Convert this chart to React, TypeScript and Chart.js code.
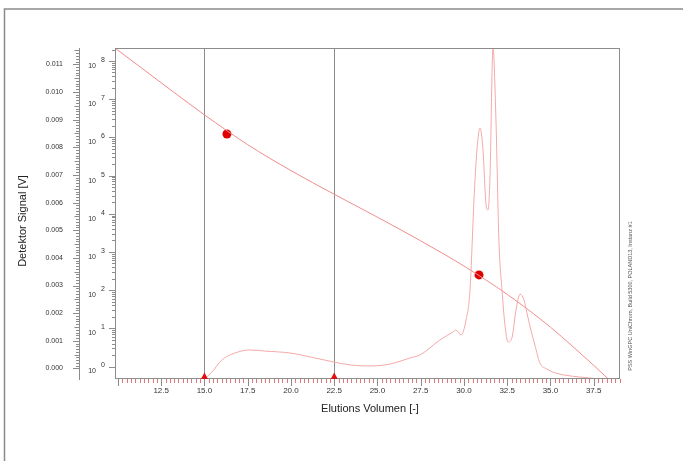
import React, { useEffect, useRef } from 'react';
import { Chart, registerables } from 'chart.js';

Chart.register(...registerables);

// Detector trace: elution volume [-] vs. detector signal [V]
const elutionVolume = [
  15.0, 15.43, 16.01, 16.76, 17.63, 18.5, 19.94, 21.39, 22.43, 23.41, 24.57, 25.72,
  26.88, 27.46, 28.61, 29.36, 29.54, 29.83, 30.12, 30.35, 30.58, 30.75, 30.93, 31.1,
  31.28, 31.39, 31.5, 31.68, 31.85, 32.02, 32.2, 32.37, 32.54, 32.77, 33.01, 33.24,
  33.47, 33.64, 33.87, 34.1, 34.39, 34.8, 35.14, 35.84, 36.71, 37.86,
];
const detectorSignal = [
  -0.00038, -0.00013, 0.00031, 0.00056, 0.00067, 0.00063, 0.00056, 0.00038, 0.00024, 0.00013, 0.00009, 0.00016,
  0.00038, 0.00049, 0.00103, 0.00132, 0.00139, 0.00121, 0.00175, 0.00284, 0.00609, 0.0079, 0.0087, 0.0079,
  0.00591, 0.00573, 0.00682, 0.01159, 0.00899, 0.00465, 0.00284, 0.00157, 0.00096, 0.0011, 0.00212, 0.00269,
  0.00248, 0.00201, 0.00139, 0.00085, 0.0002, -0.00002, -0.00013, -0.00024, -0.00031, -0.00038,
];

// Calibration curve: elution volume vs. molar mass (log axis)
const calibrationVolume = [9.8, 12.5, 15.0, 17.5, 20.0, 22.5, 25.0, 27.5, 30.0, 32.5, 35.0, 37.5, 38.35];
const calibrationMass = [2.24e8, 2.69e7, 3.89e6, 6.46e5, 1.35e5, 3.24e4, 8.13e3, 1.95e3, 427, 77.6, 10.7, 1.07, 0.468];

// Calibration standards
const standardVolume = [16.3, 30.87];
const standardMass = [1.23e6, 250];

// Integration limits
const limitVolumes = [15.0, 22.5];

// Tick labels
const volumeTicks = [12.5, 15.0, 17.5, 20.0, 22.5, 25.0, 27.5, 30.0, 32.5, 35.0, 37.5];
const signalTicks = [0, 0.001, 0.002, 0.003, 0.004, 0.005, 0.006, 0.007, 0.008, 0.009, 0.01, 0.011];
const massDecades = [0, 1, 2, 3, 4, 5, 6, 7, 8];

const FONT = '"Liberation Sans", Arial, Helvetica, sans-serif';
const FRAME = '#8c8c8c';
const TEXT = '#333333';

const decorPlugin = {
  id: 'gpcDecor',
  beforeDatasetsDraw(chart: any) {
    const { ctx, chartArea: a, scales } = chart;
    const xs = scales.x;
    ctx.save();
    ctx.strokeStyle = FRAME;
    ctx.lineWidth = 1;
    for (const v of limitVolumes) {
      const px = Math.round(xs.getPixelForValue(v)) + 0.5;
      ctx.beginPath();
      ctx.moveTo(px, a.top);
      ctx.lineTo(px, a.bottom);
      ctx.stroke();
    }
    ctx.restore();
  },
  afterDatasetsDraw(chart: any) {
    const { ctx, chartArea: a, scales } = chart;
    const xs = scales.x;
    const ys = scales.ySignal;
    const ym = scales.yMass;
    ctx.save();

    // plot frame
    ctx.strokeStyle = FRAME;
    ctx.lineWidth = 1;
    ctx.strokeRect(a.left + 0.5, a.top + 0.5, a.right - a.left - 1, a.bottom - a.top - 1);

    // x ticks: small red every 0.25, longer grey every 2.5
    for (let i = 40; i <= 156; i++) {
      const v = i / 4;
      const px = Math.round(xs.getPixelForValue(v)) + 0.5;
      const major = i % 10 === 0;
      ctx.strokeStyle = major ? '#8c8c8c' : '#e07a7a';
      ctx.beginPath();
      ctx.moveTo(px, a.bottom);
      ctx.lineTo(px, a.bottom + (major ? 7 : 4));
      ctx.stroke();
    }

    // limit markers
    ctx.fillStyle = '#e01010';
    for (const v of limitVolumes) {
      const px = xs.getPixelForValue(v);
      ctx.beginPath();
      ctx.moveTo(px - 3.5, a.bottom);
      ctx.lineTo(px + 3.5, a.bottom);
      ctx.lineTo(px, a.bottom - 6.5);
      ctx.closePath();
      ctx.fill();
    }

    // signal axis ticks
    ctx.strokeStyle = FRAME;
    const axisX = ys.right;
    for (let i = 0; i <= 115; i++) {
      const py = Math.round(ys.getPixelForValue(i / 10000)) + 0.5;
      if (py < a.top || py > a.bottom) continue;
      const len = i % 10 === 0 ? 6 : i % 5 === 0 ? 4.5 : 3;
      ctx.beginPath();
      ctx.moveTo(axisX, py);
      ctx.lineTo(axisX - len, py);
      ctx.stroke();
    }

    // mass axis ticks and labels
    for (const k of massDecades) {
      for (let m = 1; m <= 9; m++) {
        const py = Math.round(ym.getPixelForValue(m * Math.pow(10, k))) + 0.5;
        if (py < a.top || py > a.bottom) continue;
        const len = m === 1 ? 6 : 3;
        ctx.beginPath();
        ctx.moveTo(a.left, py);
        ctx.lineTo(a.left - len, py);
        ctx.stroke();
      }
    }
    ctx.fillStyle = TEXT;
    ctx.font = `7px ${FONT}`;
    ctx.textBaseline = 'middle';
    for (const k of massDecades) {
      const py = ym.getPixelForValue(Math.pow(10, k));
      ctx.textAlign = 'right';
      ctx.fillText('10', 96, py + 5);
      ctx.textAlign = 'left';
      ctx.fillText(String(k), 101, py - 1);
    }

    // axis titles
    ctx.fillStyle = '#222222';
    ctx.font = `11px ${FONT}`;
    ctx.textAlign = 'center';
    ctx.fillText('Elutions Volumen [-]', 370, 409);
    ctx.save();
    ctx.translate(23, 221);
    ctx.rotate(-Math.PI / 2);
    ctx.fillText('Detektor Signal [V]', 0, 0);
    ctx.restore();

    // software stamp
    ctx.save();
    ctx.fillStyle = '#555555';
    ctx.font = `5.5px ${FONT}`;
    ctx.translate(630, 296);
    ctx.rotate(-Math.PI / 2);
    ctx.fillText('PSS WinGPC UniChrom, Build 5300, POLAND13, Instanz #1', 0, 0);
    ctx.restore();

    // outer frame
    ctx.strokeStyle = '#8a8a8a';
    ctx.lineWidth = 1.5;
    ctx.beginPath();
    ctx.moveTo(4.5, 461);
    ctx.lineTo(4.5, 9);
    ctx.lineTo(683, 9);
    ctx.stroke();

    ctx.restore();
  },
};

export default function App() {
  const canvasRef = useRef<HTMLCanvasElement | null>(null);

  useEffect(() => {
    const canvas = canvasRef.current;
    if (!canvas) return;

    const signalData = elutionVolume.map((x, i) => ({ x, y: detectorSignal[i] }));
    const calibrationData = calibrationVolume.map((x, i) => ({ x, y: calibrationMass[i] }));
    const standardData = standardVolume.map((x, i) => ({ x, y: standardMass[i] }));

    const chart = new Chart(canvas, {
      type: 'line',
      data: {
        datasets: [
          {
            label: 'Detektor Signal',
            data: signalData,
            xAxisID: 'x',
            yAxisID: 'ySignal',
            borderColor: '#f5a8a8',
            borderWidth: 1,
            pointRadius: 0,
            cubicInterpolationMode: 'monotone',
          },
          {
            label: 'Kalibrierung',
            data: calibrationData,
            xAxisID: 'x',
            yAxisID: 'yMass',
            borderColor: '#f08c8c',
            borderWidth: 1,
            pointRadius: 0,
            cubicInterpolationMode: 'monotone',
          },
          {
            type: 'scatter',
            label: 'Standards',
            data: standardData,
            xAxisID: 'x',
            yAxisID: 'yMass',
            showLine: false,
            pointRadius: 4.5,
            pointBackgroundColor: '#e00000',
            pointBorderWidth: 0,
          } as any,
        ],
      },
      options: {
        responsive: false,
        animation: false,
        devicePixelRatio: 1,
        layout: { padding: { left: 0, top: 48, right: 63, bottom: 0 } },
        plugins: { legend: { display: false }, tooltip: { enabled: false } },
        scales: {
          x: {
            type: 'linear',
            position: 'bottom',
            min: 9.83,
            max: 39.02,
            afterFit: (s: any) => { s.height = 82; },
            afterBuildTicks: (s: any) => { s.ticks = volumeTicks.map((v) => ({ value: v })); },
            ticks: {
              autoSkip: false,
              maxRotation: 0,
              padding: 7,
              color: TEXT,
              font: { family: FONT, size: 8 },
              callback: (v: any) => Number(v).toFixed(1),
            },
            grid: { display: false, drawTicks: false },
            border: { display: false },
          },
          yMass: {
            type: 'logarithmic',
            position: 'left',
            weight: 0,
            min: 0.471,
            max: 2.19e8,
            afterFit: (s: any) => { s.width = 36; },
            ticks: { display: false },
            grid: { display: false, drawTicks: false },
            border: { display: false },
          },
          ySignal: {
            type: 'linear',
            position: 'left',
            weight: 1,
            min: -0.00038,
            max: 0.01159,
            afterFit: (s: any) => { s.width = 79; },
            afterBuildTicks: (s: any) => { s.ticks = signalTicks.map((v) => ({ value: v })); },
            ticks: {
              autoSkip: false,
              padding: 16,
              color: TEXT,
              font: { family: FONT, size: 7 },
              callback: (v: any) => Number(v).toFixed(3),
            },
            grid: { display: false, drawTicks: false },
            border: { display: true, color: FRAME, width: 1 },
          },
        },
      } as any,
      plugins: [decorPlugin],
    });

    return () => chart.destroy();
  }, []);

  return (
    <div style={{ position: 'absolute', left: 0, top: 0, width: 683, height: 461, background: '#ffffff' }}>
      <canvas ref={canvasRef} width={683} height={461} style={{ display: 'block' }} />
    </div>
  );
}
